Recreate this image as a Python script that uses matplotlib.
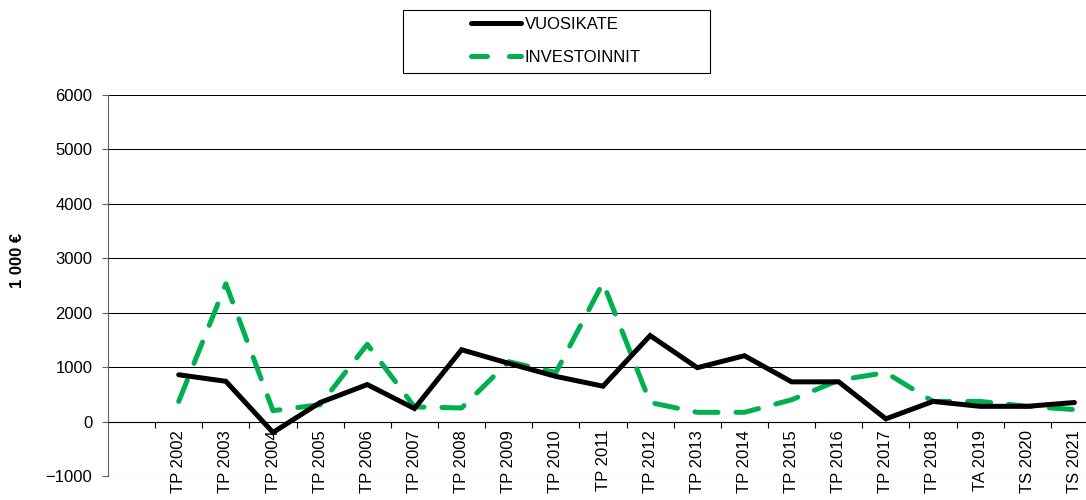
import matplotlib
matplotlib.use("Agg")
import matplotlib.pyplot as plt
from matplotlib.lines import Line2D
from matplotlib.patches import Rectangle

plt.rcParams['font.family'] = ['Liberation Sans', 'DejaVu Sans']

# Data
categories = ["", "TP 2002", "TP 2003", "TP 2004", "TP 2005", "TP 2006", "TP 2007",
              "TP 2008", "TP 2009", "TP 2010", "TP 2011", "TP 2012", "TP 2013",
              "TP 2014", "TP 2015", "TP 2016", "TP 2017", "TP 2018", "TA 2019",
              "TS 2020", "TS 2021"]
vuosikate = [860, 740, -200, 350, 680, 240, 1320, 1070, 830, 650, 1580, 990,
             1210, 730, 730, 50, 370, 280, 280, 350]
investoinnit = [370, 2530, 200, 310, 1420, 270, 250, 1100, 900, 2550, 350, 170,
                170, 400, 760, 900, 370, 370, 280, 220]

green = "#00B050"

fig = plt.figure(figsize=(10.86, 5.0), dpi=100)
# axes runs a bit past the right edge, like the original (cut off)
ax = fig.add_axes([108/1086, 24/500, 990/1086, 381/500])

x = list(range(1, len(vuosikate) + 1))
ax.plot(x, vuosikate, color="black", lw=3.6, solid_capstyle="round",
        solid_joinstyle="miter", zorder=4)
ax.plot(x, investoinnit, color=green, lw=3.6, dashes=(4.6, 3.6),
        dash_capstyle="round", zorder=3)

ax.set_xlim(-0.5, len(categories) - 0.5)
ax.set_ylim(-1000, 6000)

# y axis
ax.set_yticks(range(-1000, 6001, 1000))
ax.tick_params(axis="y", length=4.3, width=0.8, color="#606060", pad=7,
               labelsize=12)
for v in range(-1000, 6001, 1000):
    ax.axhline(v, color="black", lw=0.75, zorder=1)

# x axis at zero, ticks between categories
ax.spines["top"].set_visible(False)
ax.spines["right"].set_visible(False)
ax.spines["bottom"].set_position(("data", 0))
ax.spines["bottom"].set_linewidth(0.8)
ax.spines["left"].set_color("#606060")
ax.spines["left"].set_linewidth(0.8)

ax.set_xticks(range(len(categories)))
ax.set_xticklabels(categories, rotation=90, fontsize=12)
ax.tick_params(axis="x", which="major", length=0, pad=6)
ax.set_xticks([i + 0.5 for i in range(len(categories) - 1)], minor=True)
ax.tick_params(axis="x", which="minor", length=4.3, width=0.8, direction="out")

fig.text(18/1086, 1 - 260/500, "1 000 €", rotation=90, fontsize=12,
         fontweight="bold", ha="center", va="center")

# legend
handles = [Line2D([], [], color="black", lw=3.6, solid_capstyle="round"),
           Line2D([], [], color=green, lw=3.6, dashes=(3.2, 4.4),
                  dash_capstyle="round")]
fig.legend(handles, ["VUOSIKATE", "INVESTOINNIT"], loc="center",
           bbox_to_anchor=(556/1086, 1 - 41/500), frameon=False, fontsize=12,
           handlelength=3.0, handletextpad=0.2, labelspacing=1.05)
fig.patches.append(Rectangle((403/1086, 1 - 73/500), 307/1086, 63/500,
                             transform=fig.transFigure, fill=False,
                             ec="black", lw=0.8))

fig.savefig("out.png", dpi=100)
